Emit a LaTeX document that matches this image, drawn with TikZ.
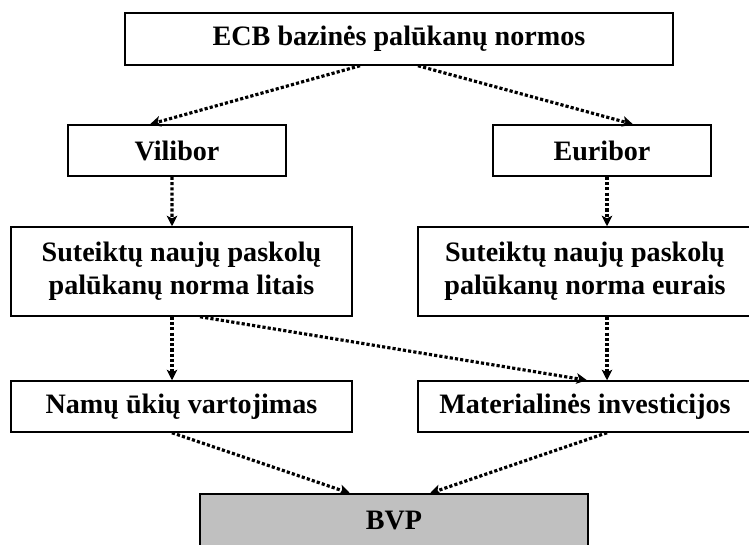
\documentclass[tikz,border=0pt]{standalone}
\usepackage{fontspec}
\setmainfont{Liberation Serif}
\usetikzlibrary{arrows.meta}

\definecolor{bvpgray}{RGB}{192,192,192}

\begin{document}
\begin{tikzpicture}[x=1cm,y=1cm,line cap=butt,line join=miter,
    box/.style={draw,line width=0.85pt,inner sep=0pt,align=center,
        font=\fontsize{16}{19}\selectfont\bfseries},
    flow/.style={line width=1.8pt,dash pattern=on 1.8pt off 1.2pt,
        -{Stealth[length=6pt,width=6pt,inset=1.5pt]}}]
        \useasboundingbox (0,0) rectangle (14.98,-10.88);

        % Blokai
        \node[box,minimum width=10.96cm,minimum height=1.04cm] (ecb) at (7.98,-0.78)
            {ECB bazinės palūkanų normos};
        \node[box,minimum width=4.36cm,minimum height=1.02cm] (vilibor) at (3.54,-3.01)
            {Vilibor};
        \node[box,minimum width=4.36cm,minimum height=1.02cm] (euribor) at (12.04,-3.01)
            {Euribor};
        \node[box,minimum width=6.82cm,minimum height=1.78cm] (litai) at (3.63,-5.43)
            {Suteiktų naujų paskolų\\palūkanų norma litais};
        \node[box,minimum width=6.68cm,minimum height=1.78cm] (eurai) at (11.70,-5.43)
            {Suteiktų naujų paskolų\\palūkanų norma eurais};
        \node[box,minimum width=6.82cm,minimum height=1.02cm] (vartojimas) at (3.63,-8.13)
            {Namų ūkių vartojimas};
        \node[box,minimum width=6.68cm,minimum height=1.02cm] (investicijos) at (11.70,-8.13)
            {Materialinės investicijos};
        \node[box,fill=bvpgray,minimum width=7.76cm,minimum height=1.04cm] (bvp) at (7.88,-10.40)
            {BVP};

        % Poveikio kanalai
        \draw[flow] ([xshift=-0.78cm]ecb.south) -- ([xshift=-0.54cm]vilibor.north);
        \draw[flow] ([xshift=0.38cm]ecb.south) -- ([xshift=0.62cm]euribor.north);
        \draw[flow] ([xshift=-0.10cm]vilibor.south) -- ([xshift=-0.19cm]litai.north);
        \draw[flow] ([xshift=0.10cm]euribor.south) -- ([xshift=0.44cm]eurai.north);
        \draw[flow] ([xshift=-0.19cm]litai.south) -- ([xshift=-0.19cm]vartojimas.north);
        \draw[flow] ([xshift=0.44cm]eurai.south) -- ([xshift=0.44cm]investicijos.north);
        \draw[flow] ([xshift=0.37cm]litai.south) -- ([xshift=0.04cm]investicijos.north);
        \draw[flow] ([xshift=-0.19cm]vartojimas.south) -- ([xshift=-0.88cm]bvp.north);
        \draw[flow] ([xshift=0.44cm]investicijos.south) -- ([xshift=0.72cm]bvp.north);

    \end{tikzpicture}
\end{document}
